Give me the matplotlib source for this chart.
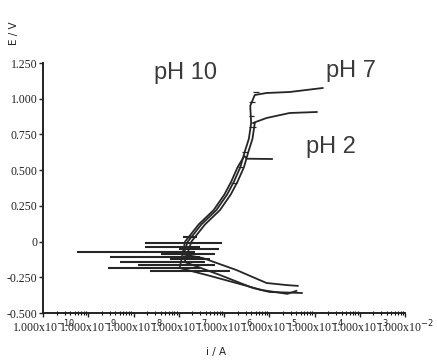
import numpy as np
import matplotlib.pyplot as plt
from matplotlib.ticker import FixedLocator, FuncFormatter, LogLocator, NullFormatter

# polarization curves, log10(i / A) vs E / V
# shared anodic rise (slightly shifted per curve)
anodic_logi = [-6.8, -6.5, -6.17, -5.93, -5.78, -5.64, -5.54, -5.45, -5.40, -5.42]
anodic_e = [0.0, 0.12, 0.22, 0.33, 0.42, 0.52, 0.63, 0.72, 0.83, 0.95]

# pH 7
ph7_cath_logi = [-4.37, -4.6, -5.06, -5.72, -6.47, -6.9]
ph7_cath_e = [-0.31, -0.305, -0.29, -0.20, -0.115, -0.09]
ph7_top_logi = [-5.32, -5.06, -4.55, -3.82]
ph7_top_e = [1.026, 1.04, 1.047, 1.075]

# pH 2
ph2_cath_logi = [-4.28, -4.99, -5.36, -6.09, -6.87]
ph2_cath_e = [-0.36, -0.353, -0.325, -0.234, -0.143]
ph2_top_logi = [-5.36, -5.06, -4.55, -3.95]
ph2_top_e = [0.83, 0.865, 0.90, 0.907]

# pH 10
ph10_cath_logi = [-4.4, -4.6, -5.17, -5.65, -6.31, -6.98]
ph10_cath_e = [-0.345, -0.366, -0.339, -0.297, -0.24, -0.185]
ph10_end_logi = [-5.55, -5.5, -4.94]
ph10_end_e = [0.60, 0.58, 0.578]

# noise spikes around the corrosion potentials: E, left and right log10(i)
spike_e = [-0.01, -0.038, -0.073, -0.108, -0.143, -0.164, -0.185, -0.206, -0.125, -0.09, 0.03, -0.05]
spike_left = [-7.75, -7.75, -9.25, -8.52, -8.3, -7.9, -8.57, -7.64, -7.2, -7.4, -6.9, -7.0]
spike_right = [-6.05, -6.53, -6.64, -6.53, -6.42, -6.2, -6.53, -5.87, -6.3, -6.2, -6.6, -6.1]

# small spikes on the anodic branch
small_e = [0.41, 0.52, 0.63, 0.80, 0.88, 0.98, 1.05]
small_left = [-5.85, -5.70, -5.60, -5.45, -5.45, -5.45, -5.35]
small_right = [-5.72, -5.58, -5.48, -5.30, -5.33, -5.32, -5.22]

yticks = [-0.5, -0.25, 0, 0.25, 0.5, 0.75, 1.0, 1.25]
ytick_labels = ['-0.500', '-0.250', '0', '0.250', '0.500', '0.750', '1.000', '1.250']
xtick_exps = [-10, -9, -8, -7, -6, -5, -4, -3, -2]

line_col = '#262626'

fig = plt.figure(figsize=(4.37, 3.61), dpi=100)
ax = fig.add_axes([43 / 437, 1 - 313 / 361, (405 - 43) / 437, (313 - 63) / 361])


def curve(cath_logi, cath_e, shift, top_logi, top_e, n_anodic=None):
    an_l = [v + shift for v in anodic_logi[:n_anodic]]
    an_e = anodic_e[:n_anodic]
    logi = list(cath_logi) + an_l + list(top_logi)
    e = list(cath_e) + list(an_e) + list(top_e)
    ax.plot(10 ** np.array(logi), e, color=line_col, lw=1.3)


curve(ph7_cath_logi, ph7_cath_e, 0.0, ph7_top_logi, ph7_top_e)
curve(ph2_cath_logi, ph2_cath_e, 0.08, ph2_top_logi, ph2_top_e, n_anodic=9)
curve(ph10_cath_logi, ph10_cath_e, -0.06, ph10_end_logi, ph10_end_e, n_anodic=6)

ax.hlines(spike_e, 10 ** np.array(spike_left), 10 ** np.array(spike_right),
          color=line_col, lw=1.5)
ax.hlines(small_e, 10 ** np.array(small_left), 10 ** np.array(small_right),
          color=line_col, lw=0.9)

ax.set_xscale('log')
ax.set_xlim(1e-10, 1e-2)
ax.set_ylim(-0.5, 1.25)

for s in ['top', 'right']:
    ax.spines[s].set_visible(False)
for s in ['left', 'bottom']:
    ax.spines[s].set_linewidth(1.4)
    ax.spines[s].set_color('#222222')

ax.xaxis.set_major_locator(FixedLocator([10.0 ** k for k in xtick_exps]))
ax.xaxis.set_major_formatter(FuncFormatter(
    lambda v, p: '1.000x10$^{%d}$' % int(round(np.log10(v)))))
ax.xaxis.set_minor_locator(LogLocator(base=10, subs=np.arange(2, 10)))
ax.xaxis.set_minor_formatter(NullFormatter())
ax.set_yticks(yticks)
ax.set_yticklabels(ytick_labels)

ax.tick_params(axis='both', which='major', direction='out', length=3, width=1,
               labelsize=8.5, pad=1, colors='#222222')
ax.tick_params(axis='x', which='minor', direction='inout', length=3, width=0.8)
for lab in ax.get_xticklabels() + ax.get_yticklabels():
    lab.set_family('Liberation Serif')

fig.text(14 / 437, 1 - 33 / 361, 'E / V', rotation=90, ha='center', va='center',
         fontsize=7.5, family='DejaVu Sans', color='#222222')
fig.text(216 / 437, 1 - 352 / 361, 'i / A', ha='center', va='center',
         fontsize=7.5, family='DejaVu Sans', color='#222222')

ax.text(10 ** -6.84, 1.18, 'pH 10', ha='center', va='center', fontsize=17,
        family='Liberation Sans', color='#3a3a3a')
ax.text(10 ** -3.2, 1.194, 'pH 7', ha='center', va='center', fontsize=17,
        family='Liberation Sans', color='#3a3a3a')
ax.text(10 ** -3.64, 0.662, 'pH 2', ha='center', va='center', fontsize=17,
        family='Liberation Sans', color='#3a3a3a')

fig.savefig('out.png', dpi=100)
